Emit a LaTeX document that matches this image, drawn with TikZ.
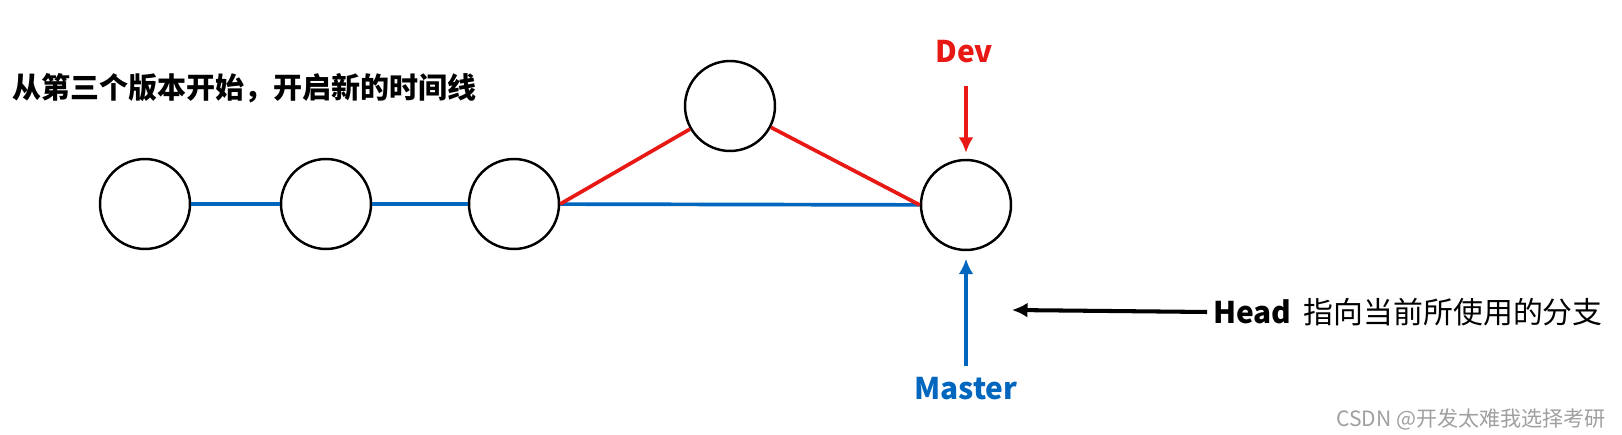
\documentclass[tikz,border=0pt]{standalone}
\usepackage{fontspec}
\setmainfont{Noto Sans CJK SC}
\usetikzlibrary{arrows.meta,positioning}
\definecolor{gitblue}{RGB}{0,102,190}
\definecolor{gitred}{RGB}{232,24,20}
\tikzset{
  commit/.style = {draw, line width=1.4pt, circle, minimum size=1.8cm,
                   inner sep=0pt},
  trunk/.style  = {draw=gitblue, line width=2.1pt},
  branch/.style = {draw=gitred, line width=2.1pt},
  ptr/.style    = {-{Latex[length=3.1mm,width=3mm]}, line width=2.3pt},
  lbl/.style    = {font=\fontsize{17}{20}\selectfont\bfseries},
}

\begin{document}
\begin{tikzpicture}[x=0.02cm, y=-0.02cm]
\useasboundingbox (0,0) rectangle (1622,435);
\node[lbl, anchor=west, font=\fontsize{16.5}{20}\selectfont\bfseries] (title)
  at (6,88) {从第三个版本开始，开启新的时间线};
% commits
\node[commit] (c1) at (145,204) {};
\node[commit] (c2) at (326,204) {};
\node[commit] (c3) at (514,204) {};
\node[commit] (c4) at (730,106) {};
\node[commit] (c5) at (966,205) {};
\draw[trunk] (c1) -- (c2);
\draw[trunk] (c2) -- (c3);
\draw[trunk] (c3) -- (c5);
\draw[branch] (c3.east) -- (c4);
\draw[branch] (c4) -- (c5.west);
% pointers
\node[lbl, text=gitred] (dev) at (964,52) {Dev};
\node[lbl, text=gitblue] (master) at (966,389) {Master};
\coordinate (devtail) at (966,86);
\coordinate (mastail) at (966,366);
\coordinate (headtip) at (1012,310);
\draw[ptr, gitred, shorten >=0.12cm] (devtail) -- (c5.north);
\draw[ptr, gitblue, shorten >=0.15cm] (mastail) -- (c5.south);
\node[lbl, anchor=west] (head) at (1207,312) {Head};
\node[right=0pt of head, font=\fontsize{17}{20}\selectfont] (headtxt)
  {指向当前所使用的分支};
\draw[ptr, black] (head.west) -- (headtip);
\node[anchor=east, text=gray!75, font=\fontsize{12}{14}\selectfont] (mark)
  at (1612,419) {CSDN @开发太难我选择考研};
\end{tikzpicture}
\end{document}
